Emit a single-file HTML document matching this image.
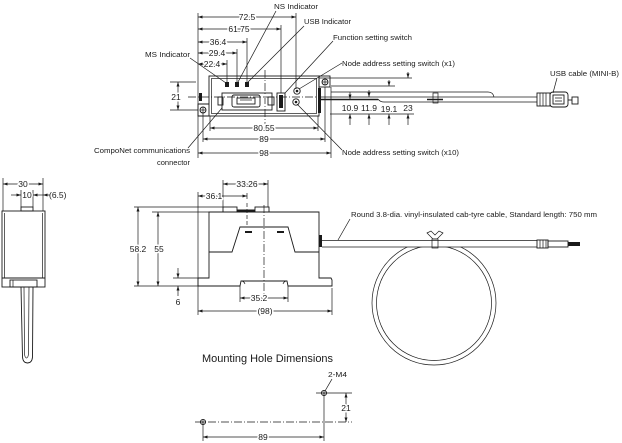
<!DOCTYPE html>
<html><head><meta charset="utf-8"><style>
html,body{margin:0;padding:0;background:#fff;}
svg{display:block;}
text{font-family:"Liberation Sans",Arial,sans-serif;fill:#1a1a1a;font-size:7.6px;}
.n{font-size:8.5px;text-anchor:middle;paint-order:stroke;stroke:#fff;stroke-width:3px;stroke-linejoin:round;}
.l{stroke:#1a1a1a;stroke-width:0.9;fill:none;}
.t{stroke:#1a1a1a;stroke-width:0.7;fill:none;}
.d{stroke:#1a1a1a;stroke-width:0.7;fill:none;marker-start:url(#a);marker-end:url(#a);}
.e{stroke:#1a1a1a;stroke-width:0.7;fill:none;marker-end:url(#a);}
.c{stroke:#1a1a1a;stroke-width:0.7;fill:none;stroke-dasharray:8 2 1 2;}
</style></head><body>
<svg width="622" height="443" viewBox="0 0 622 443" xmlns="http://www.w3.org/2000/svg">
<defs><marker id="a" viewBox="0 0 6 4" refX="6" refY="2" markerWidth="5" markerHeight="3" orient="auto-start-reverse" markerUnits="userSpaceOnUse"><path d="M0,0L6,2L0,4z" fill="#1a1a1a"/></marker></defs>

<!-- ============ TOP VIEW ============ -->
<line class="t" x1="198" y1="13" x2="198" y2="158"/>
<line class="t" x1="296" y1="13" x2="296" y2="89"/>
<line class="t" x1="281" y1="25" x2="281" y2="93"/>
<line class="t" x1="247" y1="38" x2="247" y2="83"/>
<line class="t" x1="237" y1="49" x2="237" y2="83"/>
<line class="t" x1="227" y1="60" x2="227" y2="83"/>
<line class="d" x1="198" y1="17" x2="296" y2="17"/><text class="n" x="247" y="20">72.5</text>
<line class="d" x1="198" y1="29" x2="281" y2="29"/><text class="n" x="239" y="32">61.75</text>
<line class="d" x1="198" y1="42" x2="247" y2="42"/><text class="n" x="218" y="45">36.4</text>
<line class="d" x1="198" y1="53" x2="237" y2="53"/><text class="n" x="217" y="56">29.4</text>
<line class="d" x1="198" y1="64" x2="227" y2="64"/><text class="n" x="212" y="67">22.4</text>

<rect class="l" x="209" y="76" width="110" height="40"/>
<rect class="t" x="211.5" y="78.5" width="105" height="35"/>
<path class="l" d="M209,104 H198 V116 H209"/>
<circle class="l" cx="203" cy="110" r="3"/>
<path class="t" d="M200,110H206M203,107V113"/>
<rect x="199" y="93" width="3" height="8" fill="#1a1a1a"/>
<rect class="l" x="319" y="76" width="11" height="11"/>
<circle class="l" cx="325" cy="82" r="3"/>
<path class="t" d="M322,82H328M325,79V85"/>
<rect x="318" y="88" width="3" height="25" fill="#1a1a1a"/>
<rect x="225" y="82" width="4" height="5" fill="#1a1a1a"/>
<rect x="235" y="82" width="4" height="5" fill="#1a1a1a"/>
<rect x="245" y="82" width="4" height="5" fill="#1a1a1a"/>
<rect class="l" x="222" y="93" width="50" height="17"/>
<rect class="l" x="218" y="97" width="5" height="8" fill="#fff"/>
<rect class="l" x="268" y="97" width="6" height="8" fill="#fff"/>
<rect class="l" x="232" y="95" width="28" height="12" rx="2"/>
<rect class="l" x="237" y="98" width="18" height="6"/>
<path class="t" d="M240,100H252"/>
<rect class="l" x="277" y="93" width="8" height="18"/>
<rect x="279" y="95" width="4" height="13" fill="#1a1a1a"/>
<circle class="l" cx="297" cy="91" r="3.2"/><circle cx="297" cy="91" r="1.3" fill="#1a1a1a"/>
<circle class="l" cx="296" cy="102" r="3.2"/><circle cx="296" cy="102" r="1.3" fill="#1a1a1a"/>
<line class="c" x1="265" y1="70" x2="265" y2="127"/>
<line class="c" x1="188" y1="97" x2="318" y2="97"/>

<line class="t" x1="170" y1="82" x2="196" y2="82"/>
<line class="t" x1="170" y1="110" x2="198" y2="110"/>
<line class="d" x1="178" y1="82" x2="178" y2="110"/>
<text class="n" x="176" y="100">21</text>

<line class="t" x1="210" y1="116" x2="210" y2="131"/>
<line class="t" x1="318" y1="116" x2="318" y2="131"/>
<line class="t" x1="203" y1="113" x2="203" y2="142"/>
<line class="t" x1="325" y1="87" x2="325" y2="142"/>
<line class="t" x1="331" y1="87" x2="331" y2="158"/>
<line class="d" x1="210" y1="128" x2="318" y2="128"/><text class="n" x="264" y="131">80.55</text>
<line class="d" x1="203" y1="139" x2="325" y2="139"/><text class="n" x="264" y="142">89</text>
<line class="d" x1="198" y1="153" x2="331" y2="153"/><text class="n" x="264" y="156">98</text>

<line class="t" x1="319" y1="78" x2="412" y2="78"/>
<line class="t" x1="331" y1="86" x2="395" y2="86"/>
<path class="t" d="M331,92 H488 Q493,92 494,97"/>
<line class="t" x1="321" y1="97" x2="537" y2="97"/>
<line x1="321" y1="99.5" x2="378" y2="99.5" stroke="#1a1a1a" stroke-width="1.6"/>
<path class="t" d="M378,99 Q380,102 384,102 H537"/>
<line class="t" x1="330" y1="114" x2="414" y2="114"/>
<rect class="t" x="433" y="93" width="5" height="10" fill="#fff"/>
<line x1="427" y1="99.5" x2="443" y2="99.5" stroke="#1a1a1a" stroke-width="1.5"/>
<line class="e" x1="350" y1="92" x2="350" y2="99"/><line class="e" x1="350" y1="125" x2="350" y2="114"/>
<line class="e" x1="369" y1="90" x2="369" y2="97"/><line class="e" x1="369" y1="125" x2="369" y2="114"/>
<line class="e" x1="389" y1="80" x2="389" y2="86"/><line class="e" x1="389" y1="125" x2="389" y2="114"/>
<line class="e" x1="408" y1="72" x2="408" y2="78"/><line class="e" x1="408" y1="125" x2="408" y2="114"/>
<text class="n" x="350" y="111">10.9</text>
<text class="n" x="369" y="111">11.9</text>
<text class="n" x="389" y="112">19.1</text>
<text class="n" x="408" y="111">23</text>
<rect class="l" x="537" y="93" width="13" height="13"/>
<path class="t" d="M540,93V106M543,93V106M546,93V106"/>
<rect class="l" x="550" y="92" width="18" height="15" rx="3" stroke-width="1.2"/>
<rect class="l" x="553" y="95" width="11" height="9"/>
<path class="t" d="M555,98H562M555,101H562"/>
<line class="l" x1="568" y1="100" x2="572" y2="100"/>
<rect class="l" x="572" y="97" width="6" height="7" stroke-width="1.2"/>

<text x="274" y="9" textLength="44" lengthAdjust="spacingAndGlyphs">NS Indicator</text>
<line class="t" x1="276" y1="11" x2="238" y2="82"/>
<text x="304" y="24" textLength="47" lengthAdjust="spacingAndGlyphs">USB Indicator</text>
<line class="t" x1="304" y1="26" x2="248" y2="82"/>
<text x="333" y="40" textLength="79" lengthAdjust="spacingAndGlyphs">Function setting switch</text>
<line class="t" x1="333" y1="41" x2="285" y2="93"/>
<text x="342" y="66" textLength="113" lengthAdjust="spacingAndGlyphs">Node address setting switch (x1)</text>
<line class="t" x1="342" y1="63" x2="299" y2="89"/>
<text x="145" y="57" textLength="45" lengthAdjust="spacingAndGlyphs">MS Indicator</text>
<line class="t" x1="190" y1="58" x2="226" y2="83"/>
<text x="550" y="76" textLength="69" lengthAdjust="spacingAndGlyphs">USB cable (MINI-B)</text>
<line class="t" x1="557" y1="78" x2="553" y2="93"/>
<text x="94" y="153" textLength="96" lengthAdjust="spacingAndGlyphs">CompoNet communications</text>
<text x="157" y="165" textLength="33" lengthAdjust="spacingAndGlyphs">connector</text>
<line class="t" x1="188" y1="148" x2="222" y2="108"/>
<text x="342" y="155" textLength="117" lengthAdjust="spacingAndGlyphs">Node address setting switch (x10)</text>
<line class="t" x1="342" y1="150" x2="297" y2="104"/>

<!-- ============ SIDE VIEW (left) ============ -->
<line class="t" x1="3" y1="178" x2="3" y2="211"/>
<line class="t" x1="43" y1="178" x2="43" y2="211"/>
<line class="d" x1="3" y1="184" x2="43" y2="184"/><text class="n" x="23" y="187">30</text>
<line class="t" x1="21" y1="190" x2="21" y2="207"/>
<line class="t" x1="33" y1="190" x2="33" y2="207"/>
<line class="e" x1="11" y1="195" x2="21" y2="195"/>
<line class="e" x1="43" y1="195" x2="33" y2="195"/>
<line class="e" x1="50" y1="195" x2="43" y2="195"/>
<text class="n" x="27" y="198">10</text>
<text x="49" y="198" style="font-size:8.5px">(6.5)</text>
<rect class="l" x="21" y="207" width="12" height="4"/>
<rect class="l" x="2" y="211" width="43" height="76" stroke-width="1"/>
<path class="t" d="M4.5,213V278M42.5,213V278"/>
<line class="l" x1="2" y1="278" x2="45" y2="278"/>
<rect class="l" x="10" y="280" width="27" height="7"/>
<line class="t" x1="13" y1="280" x2="13" y2="287"/>
<path class="l" d="M21,287 L22.5,357 Q23,363 27.5,363 Q32,363 32.5,357 L33,287"/>
<path class="t" d="M24,287 L24.5,354 Q25,358 26.5,358 Q28,358 28.5,354 L29,287"/>

<!-- ============ FRONT VIEW ============ -->
<line class="t" x1="198" y1="192" x2="198" y2="315"/>
<line class="t" x1="223" y1="180" x2="223" y2="207"/>
<line class="t" x1="268" y1="180" x2="268" y2="207"/>
<line class="d" x1="223" y1="184" x2="268" y2="184"/><text class="n" x="247" y="187">33.26</text>
<line class="d" x1="198" y1="196" x2="247" y2="196"/><text class="n" x="214" y="199">36.1</text>
<line class="t" x1="247" y1="193" x2="247" y2="199" />
<line class="t" x1="247" y1="203" x2="247" y2="226" stroke-dasharray="4 2"/>
<path class="l" d="M209,212 H319 V278 H331 L332,280 V286 H288 L287,281 H241 L240,286 H198 V278 H209 Z" stroke-width="1"/>
<path class="t" d="M241,281 Q244,281 245,284 M287,281 Q284,281 283,284"/>
<rect class="l" x="223" y="207" width="14" height="5"/>
<rect class="l" x="255" y="207" width="14" height="5"/>
<line x1="237" y1="210.5" x2="255" y2="210.5" stroke="#1a1a1a" stroke-width="2"/>
<path class="l" d="M209,252 H232 L240,227 H288 L295,252 H319"/>
<line x1="245" y1="232" x2="252" y2="232" stroke="#1a1a1a" stroke-width="2"/>
<line x1="277" y1="232" x2="284" y2="232" stroke="#1a1a1a" stroke-width="2"/>
<line class="c" x1="264" y1="205" x2="264" y2="302"/>
<rect x="319" y="235" width="3" height="12" fill="#1a1a1a"/>
<line class="t" x1="134" y1="207" x2="223" y2="207"/>
<line class="t" x1="134" y1="286" x2="198" y2="286"/>
<line class="t" x1="152" y1="212" x2="209" y2="212"/>
<line class="t" x1="173" y1="278" x2="198" y2="278"/>
<line class="d" x1="138" y1="207" x2="138" y2="286"/><text class="n" x="138" y="252">58.2</text>
<line class="d" x1="158" y1="212" x2="158" y2="286"/><text class="n" x="159" y="252">55</text>
<line class="e" x1="178" y1="268" x2="178" y2="278"/>
<line class="e" x1="178" y1="296" x2="178" y2="286"/>
<text class="n" x="178" y="305">6</text>
<line class="t" x1="240" y1="286" x2="240" y2="302"/>
<line class="t" x1="288" y1="286" x2="288" y2="302"/>
<line class="d" x1="240" y1="298" x2="288" y2="298"/><text class="n" x="259" y="301">35.2</text>
<line class="t" x1="332" y1="288" x2="332" y2="315"/>
<line class="d" x1="198" y1="311" x2="332" y2="311"/><text class="n" x="265" y="314">(98)</text>

<circle class="t" cx="434" cy="303" r="62"/>
<circle class="t" cx="434" cy="303" r="57.5"/>
<rect x="322" y="240" width="215" height="7" fill="#fff"/>
<line class="t" x1="322" y1="240.5" x2="537" y2="240.5"/>
<line class="t" x1="322" y1="247" x2="537" y2="247"/>
<rect class="t" x="432" y="239" width="6" height="9" fill="#fff"/>
<path class="t" d="M427,233 L431,231 L435,235 L439,231 L443,233 L437,239 H433 Z" fill="#fff"/>
<rect class="l" x="537" y="240" width="11" height="8"/>
<path class="t" d="M540,240V248M543,240V248M546,240V248"/>
<rect class="l" x="548" y="241" width="20" height="6"/>
<rect x="568" y="242" width="12" height="4" fill="#1a1a1a"/>
<text x="351" y="217" textLength="246" lengthAdjust="spacingAndGlyphs">Round 3.8-dia. vinyl-insulated cab-tyre cable, Standard length: 750 mm</text>
<line class="t" x1="350" y1="219" x2="338" y2="240"/>

<!-- ============ MOUNTING HOLES ============ -->
<text x="202" y="362" textLength="131" lengthAdjust="spacingAndGlyphs" style="font-size:11px">Mounting Hole Dimensions</text>
<text x="328" y="377" textLength="19" lengthAdjust="spacingAndGlyphs">2-M4</text>
<line class="t" x1="332" y1="379" x2="325" y2="391"/>
<line class="t" x1="316" y1="393" x2="352" y2="393"/>
<line class="c" x1="195" y1="422" x2="352" y2="422"/>
<line class="t" x1="324" y1="393" x2="324" y2="441"/>
<line class="t" x1="203" y1="422" x2="203" y2="441"/>
<circle class="l" cx="324" cy="393" r="2.6" fill="#fff"/><path class="t" d="M321.5,393H326.5M324,390.5V395.5"/>
<circle class="l" cx="203" cy="422" r="2.6" fill="#fff"/><path class="t" d="M200.5,422H205.5M203,419.5V424.5"/>
<line class="d" x1="346" y1="393" x2="346" y2="422"/><text class="n" x="346" y="411">21</text>
<line class="d" x1="203" y1="437" x2="324" y2="437"/><text class="n" x="263" y="440">89</text>
</svg>
</body></html>
